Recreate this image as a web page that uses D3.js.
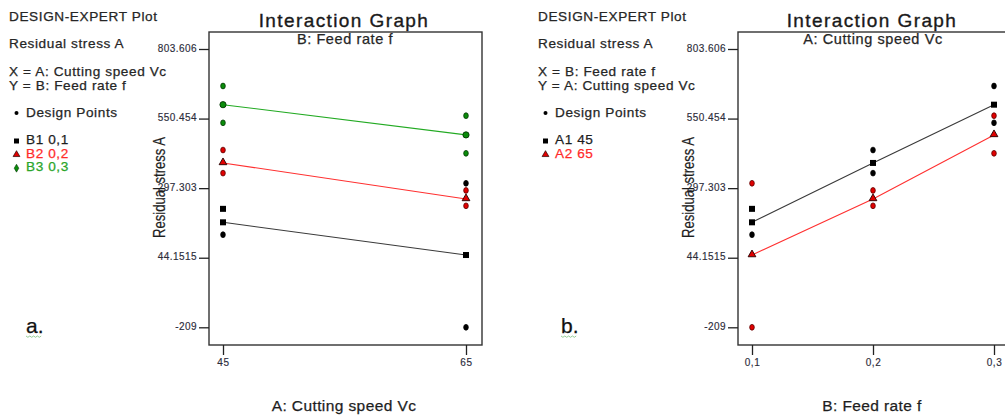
<!DOCTYPE html>
<html><head><meta charset="utf-8">
<script src="https://cdn.jsdelivr.net/npm/d3@7"></script>
<style>
body{margin:0;background:#fff}
svg{display:block;font-family:"Liberation Sans",Arial,sans-serif}
</style>
</head><body><svg id="c" width="1005" height="415"></svg>
<script>
// ---------- data ----------
const speedLevels = [45, 65];
const speedTickLabels = ["45", "65"];
const feedLevels = [0.1, 0.2, 0.3];
const feedTickLabels = ["0,1", "0,2", "0,3"];
const yTickValues = [-209, 44.1515, 297.303, 550.454, 803.606];
const yTickLabels = ["-209", "44.1515", "297.303", "550.454", "803.606"];
// predicted means over feed rate 0.1 / 0.2 / 0.3
const meansA1 = [173, 389, 601]; // Vc = 45
const meansA2 = [54, 258, 491];  // Vc = 65
// design points
const pointSpeed = [45, 45, 45, 45, 45, 45, 65, 65, 65, 65, 65, 65];
const pointFeed  = [0.1, 0.1, 0.2, 0.2, 0.3, 0.3, 0.1, 0.1, 0.2, 0.2, 0.3, 0.3];
const pointValue = [222, 128, 436, 352, 669, 535, 315, -209, 289, 233, 561, 424];
const legendB = ["B1 0,1", "B2 0,2", "B3 0,3"];
const legendA = ["A1 45", "A2 65"];

// ---------- styles ----------
const fills   = ["#000000", "#e00000", "#0a8c0a"];
const strokes = ["#000000", "#5a0000", "#063806"];
const lineCols = ["#3a3a3a", "#ff3030", "#22aa22"];
const textCols = ["#1e1e1e", "#ff2a2a", "#2aa52a"];
const markerTypes = ["square", "triangle", "round"];

const svg = d3.select("#c");
const y = d3.scaleLinear().domain([-209, 803.606]).range([327.3, 49]);

function marker(g, type, x, yy, fill, stroke) {
  if (type === "square") {
    g.append("rect").attr("x", x - 3).attr("y", yy - 3).attr("width", 6).attr("height", 6)
      .attr("fill", "#000");
  } else if (type === "triangle") {
    g.append("path").attr("transform", `translate(${x},${yy - 0.5})`)
      .attr("d", d3.symbol().type(d3.symbolTriangle).size(26)())
      .attr("fill", fill).attr("stroke", "#200").attr("stroke-width", 0.9);
  } else if (type === "round") {
    g.append("circle").attr("cx", x).attr("cy", yy).attr("r", 3.1)
      .attr("fill", fill).attr("stroke", stroke).attr("stroke-width", 0.9);
  } else {
    g.append("ellipse").attr("cx", x).attr("cy", yy).attr("rx", 2.3).attr("ry", 2.9)
      .attr("fill", fill).attr("stroke", stroke).attr("stroke-width", 0.8);
  }
}

function txt(g, x, yy, t, size, ls, col) {
  return g.append("text").attr("x", x).attr("y", yy).text(t)
    .attr("font-size", size).attr("letter-spacing", ls).attr("fill", col)
    .attr("stroke", col).attr("stroke-width", 0.25);
}

function panel(cfg) {
  const g = svg.append("g");
  const tx = cfg.textX;
  const info = [
    ["DESIGN-EXPERT Plot", 21], ["Residual stress A", 48],
    [cfg.xLine, 76], [cfg.yLine, 89.5]
  ];
  info.forEach(([t, b]) => txt(g, tx, b, t, 13.6, 0.6, "#262626"));
  // Design points legend
  g.append("circle").attr("cx", tx + 7.5).attr("cy", 113).attr("r", 2).attr("fill", "#000");
  txt(g, tx + 17, 116.7, "Design Points", 13.6, 0.6, "#262626");
  cfg.legend.forEach((t, i) => {
    const b = 144 + i * 13.6;
    if (i === 0) g.append("rect").attr("x", tx + 5).attr("y", b - 5.5).attr("width", 5).attr("height", 5).attr("fill", "#000");
    else if (i === 1) g.append("path").attr("transform", `translate(${tx + 7.5},${b - 3})`)
      .attr("d", d3.symbol().type(d3.symbolTriangle).size(20)()).attr("fill", fills[1]).attr("stroke", "#200").attr("stroke-width", 0.7);
    else g.append("path").attr("transform", `translate(${tx + 7.5},${b - 3})`)
      .attr("d", d3.symbol().type(d3.symbolDiamond).size(18)()).attr("fill", fills[2]).attr("stroke", "#063806").attr("stroke-width", 0.6);
    txt(g, tx + 17, b, t, 13.6, 0.6, textCols[i]);
  });
  // panel letter
  txt(g, cfg.letterX, 333, cfg.letter, 21, 0, "#111");
  const sq = [];
  for (let k = 0; k <= 8; k++) sq.push([cfg.letterX + k * 1.9, 336 + (k % 2 ? 1.3 : 0)]);
  g.append("path").attr("d", d3.line()(sq)).attr("fill", "none").attr("stroke", "#7cc07c").attr("stroke-width", 0.8);

  // titles
  txt(g, cfg.titleX, 27.3, "Interaction Graph", 19, 1.4, "#1a1a1a").attr("text-anchor", "middle").attr("stroke-width", 0.35);
  txt(g, cfg.titleX + 1, 44, cfg.sub, 14.5, 0.6, "#262626").attr("text-anchor", "middle");

  // box
  g.append("rect").attr("x", cfg.box[0]).attr("y", 32).attr("width", cfg.box[1] - cfg.box[0]).attr("height", 313)
    .attr("fill", "none").attr("stroke", "#333").attr("stroke-width", 1.4);

  // y axis
  const ya = g.append("g").attr("transform", `translate(${cfg.box[0]},0)`)
    .call(d3.axisLeft(y).tickValues(yTickValues).tickFormat((d, i) => yTickLabels[i]).tickSize(10).tickPadding(2));
  ya.select(".domain").remove();
  ya.selectAll("line").attr("stroke", "#222").attr("stroke-width", 1.3);
  ya.selectAll("text").attr("font-size", 10).attr("letter-spacing", 0.45).attr("fill", "#2c2c3a")
    .attr("stroke", "#2c2c3a").attr("stroke-width", 0.15)
    .attr("font-family", "'Liberation Sans',Arial,sans-serif").attr("dy", "0.2em");

  // x axis
  const x = d3.scaleLinear().domain(cfg.xDomain).range(cfg.xRange);
  const xa = g.append("g").attr("transform", `translate(0,345)`)
    .call(d3.axisBottom(x).tickValues(cfg.xTicks).tickFormat((d, i) => cfg.xTickLabels[i]).tickSize(10).tickPadding(4));
  xa.select(".domain").remove();
  xa.selectAll("line").attr("stroke", "#222").attr("stroke-width", 1.3);
  xa.selectAll("text").attr("font-size", 10).attr("letter-spacing", 0.6).attr("fill", "#2c2c3a")
    .attr("stroke", "#2c2c3a").attr("stroke-width", 0.15)
    .attr("font-family", "'Liberation Sans',Arial,sans-serif");

  // y title
  g.append("text").attr("transform", `translate(${cfg.box[0] - 44},187.5) rotate(-90)`)
    .attr("text-anchor", "middle").attr("font-size", 16).attr("fill", "#1e1e1e")
    .attr("stroke", "#1e1e1e").attr("stroke-width", 0.2)
    .attr("textLength", 101).attr("lengthAdjust", "spacingAndGlyphs").text("Residual stress A");
  // x title
  txt(g, cfg.titleX, 410.5, cfg.xTitle, 15.5, 0.4, "#1e1e1e").attr("text-anchor", "middle");

  // lines
  cfg.series.forEach(s => {
    g.append("path").attr("d", d3.line().x(d => x(d[0])).y(d => y(d[1]))(s.pts))
      .attr("fill", "none").attr("stroke", lineCols[s.c]).attr("stroke-width", 1.1);
  });
  // design points
  pointValue.forEach((v, i) => {
    const px = x(cfg.pointX[i]), c = cfg.pointC[i];
    if (i === 0) marker(g, "square", px, y(v), fills[c], strokes[c]);
    else marker(g, "dot", px, y(v), fills[c], strokes[c]);
  });
  // means
  cfg.series.forEach(s => {
    s.pts.forEach(p => marker(g, markerTypes[s.c], x(p[0]), y(p[1]), fills[s.c], strokes[s.c]));
  });
}

// panel a: x = cutting speed, lines by feed rate
panel({
  textX: 9, letter: "a.", letterX: 26, titleX: 344,
  sub: "B: Feed rate f", xLine: "X = A: Cutting speed Vc", yLine: "Y = B: Feed rate f",
  legend: legendB, box: [209, 482], xDomain: [45, 65], xRange: [223, 466],
  xTicks: speedLevels, xTickLabels: speedTickLabels, xTitle: "A: Cutting speed Vc",
  series: feedLevels.map((f, i) => ({ c: i, pts: [[45, meansA1[i]], [65, meansA2[i]]] })),
  pointX: pointSpeed, pointC: pointFeed.map(f => feedLevels.indexOf(f))
});

// panel b: x = feed rate, lines by cutting speed
panel({
  textX: 538, letter: "b.", letterX: 561, titleX: 872,
  sub: "A: Cutting speed Vc", xLine: "X = B: Feed rate f", yLine: "Y = A: Cutting speed Vc",
  legend: legendA, box: [738, 1011], xDomain: [0.1, 0.3], xRange: [752, 994],
  xTicks: feedLevels, xTickLabels: feedTickLabels, xTitle: "B: Feed rate f",
  series: [
    { c: 0, pts: feedLevels.map((f, i) => [f, meansA1[i]]) },
    { c: 1, pts: feedLevels.map((f, i) => [f, meansA2[i]]) }
  ],
  pointX: pointFeed, pointC: pointSpeed.map(s => speedLevels.indexOf(s))
});
</script>
</body></html>
